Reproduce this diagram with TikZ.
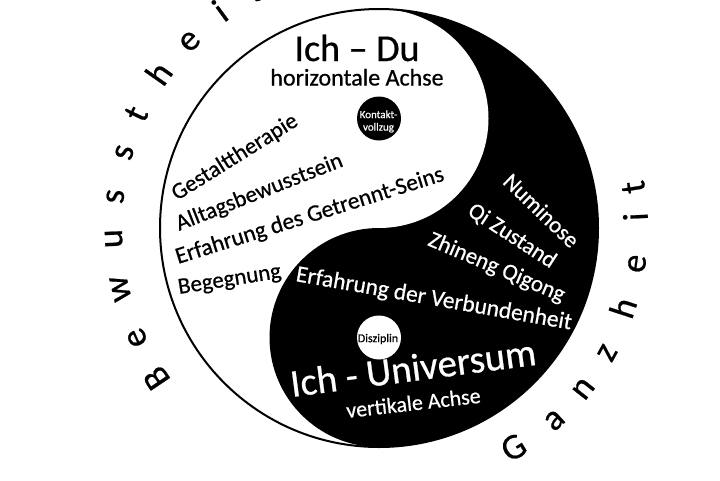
\documentclass[tikz,border=0pt]{standalone}
\usepackage{fontspec}
\setmainfont{Carlito}[FakeBold=0.6]
\begin{document}
\begin{tikzpicture}[x=1pt,y=-1pt,
  arcletter/.style={inner sep=0pt, anchor=base, font=\fontsize{36}{36}\selectfont},
  lbl/.style={inner sep=0pt, font=\fontsize{23}{23}\selectfont},
  wlbl/.style={lbl, text=white},
  bigtitle/.style={inner sep=0pt, font=\fontsize{38}{38}\selectfont},
  subtitle/.style={inner sep=0pt, font=\fontsize{24}{24}\selectfont},
  dotlbl/.style={inner sep=0pt, align=center, font=\fontsize{11}{12.5}\selectfont},
  yydot/.style={circle, inner sep=0pt, minimum size=44pt}]
\useasboundingbox (0,0) rectangle (720,480);
\coordinate (c) at (379,228);
% yin-yang
\fill[white] (c) circle (219pt);
\begin{scope}
  \clip (c) circle (219pt);
  \fill[black] (379,0) rectangle (620,460);
\end{scope}
\fill[white] (379,118.5) circle (109.5pt);
\fill[black] (379,337.5) circle (109.5pt);
\draw[line width=2pt] (c) circle (219pt);
\node[yydot, fill=black] (kdot) at (379,118.5) {};
\node[yydot, fill=white] (ddot) at (379,337.5) {};
\node[dotlbl, text=white] (kontakt) at (378.5,121.5) {Kontakt-\\vollzug};
\node[dotlbl, font=\fontsize{12}{12}\selectfont] (disziplin) at (378,339) {Disziplin};
% titles
\node[bigtitle, anchor=base] (ichdu) at (357,61) {Ich – Du};
\node[subtitle, anchor=base] (hachse) at (357,85.5) {horizontale Achse};
\node[bigtitle, font=\fontsize{39}{39}\selectfont, text=white, anchor=base west, rotate=7.5] (ichuni) at (292,397) {Ich - Universum};
\node[subtitle, font=\fontsize{22}{22}\selectfont, text=white, anchor=base west, rotate=6.5] (vachse) at (347,418) {vertikale Achse};
% white side
\node[lbl, anchor=base west, rotate=32] (gestalt) at (177,201) {Gestalttherapie};
\node[lbl, anchor=base west, rotate=21.5] (alltag) at (179,231) {Alltagsbewusstsein};
\node[lbl, font=\fontsize{23.5}{23.5}\selectfont, anchor=base west, rotate=17.4] (getrennt) at (178,264) {Erfahrung des Getrennt-Seins};
\node[lbl, anchor=base west, rotate=9] (begegnung) at (179,294) {Begegnung};
% black side
\node[wlbl, rotate=-44] (numinose) at (541.5,210.5) {Numinose};
\node[wlbl, rotate=-33] (qizustand) at (512,236) {Qi Zustand};
\node[wlbl, rotate=-23] (zhineng) at (496.5,268) {Zhineng Qigong};
\node[wlbl, font=\fontsize{23.5}{23.5}\selectfont, anchor=base west, rotate=-10] (verbunden) at (295,281) {Erfahrung der Verbundenheit};
% outer arc words
\foreach \ang/\ch [count=\i] in {214/B,204.4/e,193.2/w,182.3/u,173.2/s,163.5/s,154.8/t,144.9/h,135.4/e,126.2/i,118/t}
  \node[arcletter, rotate=\ang-90] (bw\i) at ([shift={(c)}]\ang:257pt) {\ch};
\foreach \ang/\ch [count=\i] in {-58.5/G,-47.6/a,-38.2/n,-28.7/z,-18.1/h,-7.9/e,2.5/i,9.1/t}
  \node[arcletter, rotate=\ang+90] (gz\i) at ([shift={(c)}]\ang:269pt) {\ch};
\end{tikzpicture}
\end{document}
